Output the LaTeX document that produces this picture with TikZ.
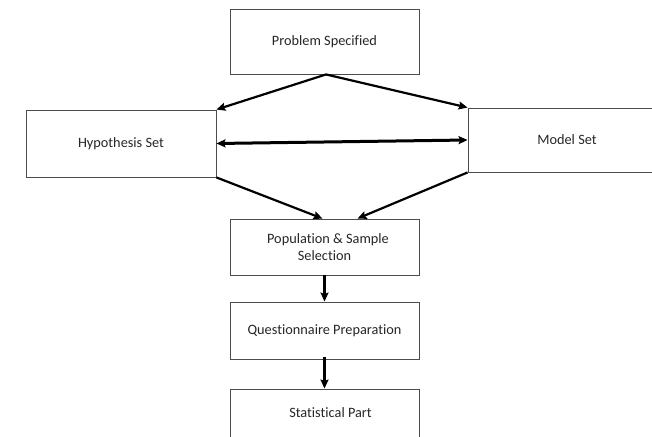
\documentclass[tikz,border=0pt]{standalone}
\usepackage{fontspec}
\setmainfont[Ligatures=NoCommon]{Carlito}
\usetikzlibrary{arrows.meta}
\begin{document}
\begin{tikzpicture}[x=1pt,y=-1pt,
  box/.style={draw=black!70, line width=0.9pt, rectangle, inner sep=0pt, align=center,
    font=\fontsize{14.3}{17}\selectfont, text=black!85},
  arr/.style={line width=2.2pt, -{Stealth[length=9pt,width=8pt,inset=1.5pt]}},
  darr/.style={line width=3pt, {Stealth[length=9pt,width=8pt,inset=1.5pt]}-{Stealth[length=9pt,width=8pt,inset=1.5pt]}}]
\useasboundingbox (0,0) rectangle (652,436);
\node[box, minimum width=189pt, minimum height=65pt] (prob) at (324.5,41.5) {Problem Specified};
\node[box, minimum width=190pt, minimum height=67pt] (hyp) at (121,143.5) {Hypothesis Set};
\node[box, minimum width=198pt, minimum height=64pt] (model) at (567,140) {Model Set};
\node[box, minimum width=189pt, minimum height=56pt] (pop) at (324.5,247) {\hspace*{7pt}Population \& Sample\\Selection};
\node[box, minimum width=189pt, minimum height=57pt] (quest) at (324.5,330.5) {Questionnaire Preparation};
\node[box, minimum width=189pt, minimum height=48pt] (stat) at (324.5,413) {\hspace*{12pt}Statistical Part};
\draw[arr] ([xshift=1.5pt]prob.south) -- (hyp.north east);
\draw[arr] ([xshift=1.5pt]prob.south) -- (model.north west);
\draw[darr] (hyp.east) -- (model.west);
\draw[arr] (hyp.south east) -- ([xshift=-2pt]pop.north);
\draw[arr] (model.south west) -- ([xshift=33pt]pop.north);
\draw[arr] (pop.south) -- (quest.north);
\draw[arr] ([yshift=2pt]quest.south) -- (stat.north);
\end{tikzpicture}
\end{document}
